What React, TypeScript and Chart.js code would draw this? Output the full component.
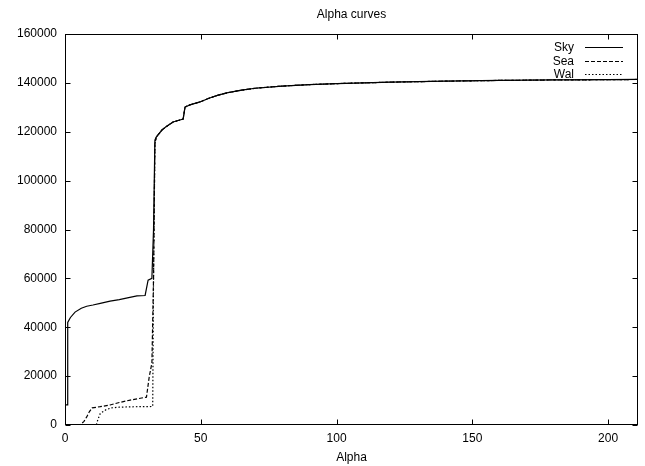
import { useEffect, useRef } from "react";
import { Chart, registerables } from "chart.js";

Chart.register(...registerables);

// ---- data ----
const skyAlpha = [0, 0.8, 1, 2, 3.7, 6, 8, 10.3, 13, 16.6, 20, 23, 26.5, 29.5, 30.6, 32, 32.6, 33.1];
const skyValue = [8200, 8200, 42000, 44000, 46200, 47800, 48600, 49100, 49800, 50700, 51300, 52000, 52800, 53000, 59300, 60000, 80000, 116600];

const seaAlpha = [0, 5.5, 7, 8, 9, 10, 13, 16.6, 20, 24, 27, 30, 31, 32, 32.6, 33.1];
const seaValue = [0, 0, 1500, 3300, 5500, 7000, 7500, 8200, 9200, 10200, 10800, 11400, 19600, 25400, 60000, 115000];

const walAlpha = [0, 11.5, 12.2, 13, 15, 17, 20, 23, 27, 31, 32.3, 32.6, 33.1];
const walValue = [0, 0, 2500, 4700, 6200, 7000, 7300, 7400, 7500, 7500, 7600, 60000, 115000];

// shared upper part of all three curves
const upperAlpha = [33.6, 35.7, 37.5, 39.8, 42, 43.5, 44.2, 46, 49.7, 53, 56.4, 60, 65, 70, 80, 90, 100, 120, 140, 160, 180, 200, 211];
const upperValue = [117800, 120700, 122300, 124000, 124700, 125200, 130100, 131000, 132200, 133700, 135000, 136000, 137000, 137800, 138700, 139300, 139700, 140300, 140700, 141000, 141200, 141300, 141400];

const seriesNames = ["Sky", "Sea", "Wal"];
const seriesDashes: number[][] = [[], [4, 2], [1.5, 2]];

const xMin = 0;
const xMax = 211;
const xStep = 50;
const yMin = 0;
const yMax = 160000;
const yStep = 20000;

const FONT = "'Liberation Sans', Arial, sans-serif";

function zip(a: number[], v: number[]) {
  return a.map((x, i) => ({ x, y: v[i] }));
}

const framePlugin = {
  id: "gnuplotFrame",
  afterDatasetsDraw(chart: any) {
    const { ctx, chartArea: a, scales } = chart;
    ctx.save();
    ctx.strokeStyle = "#000";
    ctx.lineWidth = 1;
    ctx.setLineDash([]);
    const L = Math.round(a.left) + 0.5;
    const R = Math.round(a.right) - 0.5;
    const T = Math.round(a.top) + 0.5;
    const B = Math.round(a.bottom) - 0.5;
    ctx.strokeRect(L, T, R - L, B - T);
    const tl = 5;
    ctx.beginPath();
    scales.x.ticks.forEach((t: any) => {
      const px = Math.round(scales.x.getPixelForValue(t.value)) + 0.5;
      ctx.moveTo(px, B);
      ctx.lineTo(px, B - tl);
      ctx.moveTo(px, T);
      ctx.lineTo(px, T + tl);
    });
    scales.y.ticks.forEach((t: any) => {
      const py = Math.round(scales.y.getPixelForValue(t.value)) + 0.5;
      ctx.moveTo(L, py);
      ctx.lineTo(L + tl, py);
      ctx.moveTo(R, py);
      ctx.lineTo(R - tl, py);
    });
    ctx.stroke();

    // key (legend) in the top right, gnuplot style
    ctx.font = `12px ${FONT}`;
    ctx.fillStyle = "#000";
    ctx.textAlign = "right";
    ctx.textBaseline = "middle";
    seriesNames.forEach((name, i) => {
      const y = Math.round(a.top + 13 + i * 13.5) + 0.5;
      ctx.fillText(name, a.right - 64, y);
      ctx.beginPath();
      ctx.setLineDash(seriesDashes[i]);
      ctx.lineWidth = 1.2;
      ctx.moveTo(a.right - 53, y);
      ctx.lineTo(a.right - 15, y);
      ctx.stroke();
    });
    ctx.restore();
  },
};

export default function App() {
  const ref = useRef<HTMLCanvasElement | null>(null);

  useEffect(() => {
    if (!ref.current) return;
    const upper = zip(upperAlpha, upperValue);
    const seriesData = [
      zip(skyAlpha, skyValue).concat(upper),
      zip(seaAlpha, seaValue).concat(upper),
      zip(walAlpha, walValue).concat(upper),
    ];
    const chart = new Chart(ref.current, {
      type: "line",
      data: {
        datasets: seriesNames.map((name, i) => ({
          label: name,
          data: seriesData[i],
          borderColor: "#000",
          borderWidth: 1.2,
          borderDash: seriesDashes[i],
          pointRadius: 0,
          fill: false,
          tension: 0,
          order: i,
        })),
      },
      options: {
        responsive: false,
        animation: false,
        events: [],
        layout: { padding: { top: 0, right: 7, left: 0, bottom: 0 } },
        plugins: {
          legend: { display: false },
          tooltip: { enabled: false },
          title: {
            display: true,
            text: "Alpha curves",
            fullSize: false,
            color: "#000",
            font: { family: FONT, size: 12, weight: "normal" },
            padding: { top: 7, bottom: 12.6 },
          },
        },
        scales: {
          x: {
            type: "linear",
            min: xMin,
            max: xMax,
            grid: { display: false, drawTicks: false },
            border: { display: false },
            ticks: {
              stepSize: xStep,
              includeBounds: false,
              padding: 6,
              color: "#000",
              font: { family: FONT, size: 12 },
              maxRotation: 0,
            },
            title: {
              display: true,
              text: "Alpha",
              color: "#000",
              font: { family: FONT, size: 12 },
              padding: { top: 0, bottom: 1 },
            },
            afterFit: (s: any) => {
              s.height = 41;
            },
          },
          y: {
            type: "linear",
            min: yMin,
            max: yMax,
            grid: { display: false, drawTicks: false },
            border: { display: false },
            ticks: {
              stepSize: yStep,
              padding: 8,
              color: "#000",
              font: { family: FONT, size: 12 },
              callback: (v: any) => String(v),
            },
            afterFit: (s: any) => {
              s.width = 65;
            },
          },
        },
      },
      plugins: [framePlugin],
    } as any);
    return () => chart.destroy();
  }, []);

  return (
    <div style={{ position: "absolute", left: 0, top: 0, width: 645, height: 466, background: "#fff" }}>
      <canvas ref={ref} width={645} height={466} style={{ display: "block" }} />
    </div>
  );
}
